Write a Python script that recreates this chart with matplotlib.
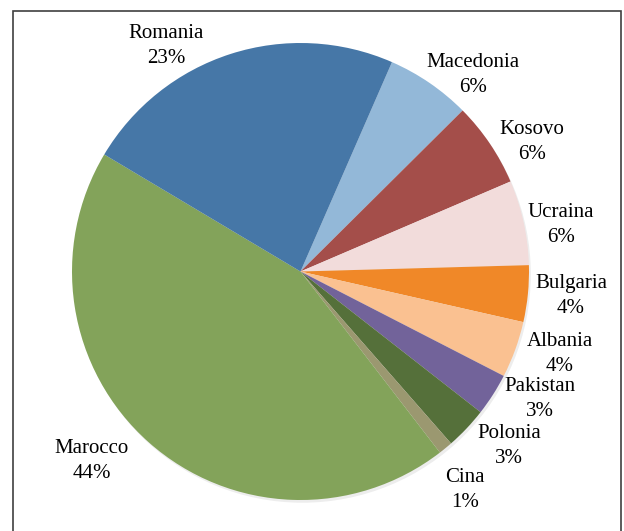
import matplotlib
matplotlib.use("Agg")
import matplotlib.pyplot as plt
from matplotlib.patches import Rectangle, Circle

# Data (clockwise order, starting at the Macedonia slice)
categories = ["Macedonia", "Kosovo", "Ucraina", "Bulgaria", "Albania",
              "Pakistan", "Polonia", "Cina", "Marocco", "Romania"]
values = [6, 6, 6, 4, 4, 3, 3, 1, 44, 23]
colors = ["#93B8D8", "#A44E4A", "#F2DCDB", "#F08828", "#FAC191",
          "#72639A", "#55703A", "#9B9870", "#83A35A", "#4677A7"]

W, H = 624, 531
cx, cy, R = 300.5, 271.5, 228.5

# label centre positions in pixels (layout)
label_px = {
    "Macedonia": (473, 75), "Kosovo": (532, 142), "Ucraina": (561, 225),
    "Bulgaria": (571, 296), "Albania": (560, 354), "Pakistan": (540, 399),
    "Polonia": (509, 446), "Cina": (465, 490), "Marocco": (92, 461),
    "Romania": (166, 46),
}

fig = plt.figure(figsize=(W / 100, H / 100), dpi=100)
ax = fig.add_axes([0, 0, 1, 1])

# subtle shadow
shadow = Circle((0.008, -0.012), 1.0, facecolor="#000000", alpha=0.07,
                edgecolor="none", zorder=0)
ax.add_patch(shadow)

wedges, _ = ax.pie(values, colors=colors, startangle=66.4, counterclock=False,
                   radius=1.0, wedgeprops=dict(linewidth=0), frame=True)
ax.set_xlim(-cx / R, (W - cx) / R)
ax.set_ylim(-(H - cy) / R, cy / R)
ax.set_aspect("auto")
ax.axis("off")

total = sum(values)
for cat, v in zip(categories, values):
    px, py = label_px[cat]
    x = (px - cx) / R
    y = (cy - py) / R
    ax.text(x, y, f"{cat}\n{round(100 * v / total)}%", ha="center", va="center",
            fontsize=15, family="Liberation Serif", linespacing=1.38,
            color="#000000")

# frame
fig.patches.append(Rectangle((13 / W, -0.05), (621 - 13) / W, 1.05 - 11 / H,
                             transform=fig.transFigure, fill=False,
                             edgecolor="#404040", linewidth=1.2))

fig.savefig("out.png", dpi=100)
